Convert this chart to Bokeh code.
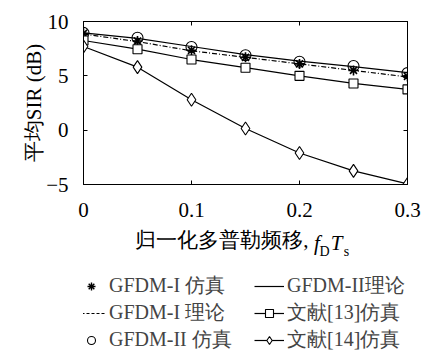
from bokeh.plotting import figure
from bokeh.layouts import column
from bokeh.models import (Range1d, FixedTicker, LinearAxis, Legend, LegendItem)
from bokeh.embed import file_html
from bokeh.resources import INLINE

# ---- data ----
doppler = [0, 0.05, 0.1, 0.15, 0.2, 0.25, 0.3]
gfdm1_sim = [8.9, 8.2, 7.35, 6.7, 6.1, 5.5, 4.95]
gfdm1_theory = [8.85, 8.15, 7.3, 6.7, 6.1, 5.5, 4.9]
gfdm2_sim = [8.95, 8.5, 7.65, 6.9, 6.3, 5.9, 5.25]
gfdm2_theory = [8.95, 8.45, 7.7, 6.95, 6.35, 5.85, 5.3]
ref13_sim = [8.25, 7.45, 6.5, 5.75, 5.0, 4.3, 3.75]
ref14_sim = [7.7, 5.8, 2.8, 0.15, -2.1, -3.75, -4.95]

x_ticks = [0, 0.1, 0.2, 0.3]
y_ticks = [-5, 0, 5, 10]
y_tick_labels = {-5: "\u22125"}

series_labels = ["GFDM-I 仿真", "GFDM-I 理论", "GFDM-II 仿真",
                 "GFDM-II理论", "文献[13]仿真", "文献[14]仿真"]
x_title_main = "归一化多普勒频移,"
x_title_italic = ["f", "T"]
x_title_sub = ["D", "s"]
y_title = "平均SIR (dB)"

FONT = "Liberation Serif"
FS = "21px"

FRAME_W = 324
X0, X1 = 0.0, 0.3

p = figure(width=423, height=262, x_range=Range1d(X0, X1), y_range=Range1d(-5, 10),
           output_backend="svg", toolbar_location=None,
           min_border_left=83, min_border_right=16, min_border_top=21,
           min_border_bottom=78)
p.xgrid.grid_line_color = None
p.ygrid.grid_line_color = None
p.outline_line_color = "black"
p.outline_line_width = 1


def style_axis(ax, ticks, show_labels=True):
    ax.ticker = FixedTicker(ticks=ticks)
    ax.major_tick_in = 4
    ax.major_tick_out = 0
    ax.minor_tick_in = 0
    ax.minor_tick_out = 0
    ax.axis_line_color = "black"
    ax.major_tick_line_color = "black"
    ax.major_label_text_font = FONT
    if show_labels:
        ax.major_label_text_font_size = FS
        ax.major_label_text_color = "black"
    else:
        ax.major_label_text_font_size = "1px"
        ax.major_label_text_color = None
        ax.major_label_standoff = 0


style_axis(p.xaxis[0], x_ticks)
p.xaxis[0].major_label_standoff = 18
p.xaxis[0].axis_label = x_title_main + "\u00a0" * 9
p.xaxis[0].axis_label_text_font = FONT
p.xaxis[0].axis_label_text_font_size = FS
p.xaxis[0].axis_label_text_font_style = "normal"
p.xaxis[0].axis_label_text_color = "black"
p.xaxis[0].axis_label_standoff = 8

style_axis(p.yaxis[0], y_ticks)
p.yaxis[0].major_label_standoff = 15
p.yaxis[0].major_label_overrides = y_tick_labels
p.yaxis[0].axis_label = y_title
p.yaxis[0].axis_label_text_font = FONT
p.yaxis[0].axis_label_text_font_size = FS
p.yaxis[0].axis_label_text_font_style = "normal"
p.yaxis[0].axis_label_text_color = "black"
p.yaxis[0].axis_label_standoff = -3

top_ax = LinearAxis()
style_axis(top_ax, x_ticks, show_labels=False)
p.add_layout(top_ax, "above")
right_ax = LinearAxis()
style_axis(right_ax, y_ticks, show_labels=False)
p.add_layout(right_ax, "right")


# ---- math part of the x title (f_D T_s), placed as label-only axes ----
def px_to_x(px):
    return round(X0 + (X1 - X0) * px / FRAME_W, 4)


def title_piece_axis(texts, offsets_px, size, style, standoff):
    ticks = [px_to_x(o) for o in offsets_px]
    ax = LinearAxis(ticker=FixedTicker(ticks=ticks),
                    major_label_overrides=dict(zip(ticks, texts)),
                    axis_line_color=None, major_tick_line_color=None,
                    minor_tick_line_color=None, major_tick_in=0, major_tick_out=0,
                    minor_tick_in=0, minor_tick_out=0,
                    major_label_standoff=standoff,
                    major_label_text_font=FONT, major_label_text_font_size=size,
                    major_label_text_font_style=style, major_label_text_color="black")
    p.add_layout(ax, "below")
    return ax


title_piece_axis(x_title_italic, [233.5, 253], FS, "italic", -24)
title_piece_axis(x_title_sub, [241, 263], "14px", "normal", -14)

# ---- series ----
r_l1 = p.line(doppler, gfdm1_theory, line_color="black", line_width=1.2, line_dash="5 2 1 2")
r_l2 = p.line(doppler, gfdm2_theory, line_color="black", line_width=1.2)
r_l13 = p.line(doppler, ref13_sim, line_color="black", line_width=1.2)
r_l14 = p.line(doppler, ref14_sim, line_color="black", line_width=1.2)
r_s1 = p.scatter(doppler, gfdm1_sim, marker="asterisk", size=10, line_color="black", line_width=1.6)
r_s2 = p.scatter(doppler, gfdm2_sim, marker="circle", size=11, fill_color=None, line_color="black", line_width=1.1)
r_s13 = p.scatter(doppler, ref13_sim, marker="square", size=9, fill_color="white", line_color="black", line_width=1.1)
r_s14 = p.scatter(doppler, ref14_sim, marker="diamond", size=13, fill_color="white", line_color="black", line_width=1.1)

# ---- legend strip below the plot; its keys are hidden copies of the series ----
p2 = figure(width=423, height=91, output_backend="svg", toolbar_location=None,
            x_axis_type=None, y_axis_type=None, min_border=0,
            outline_line_color=None)
p2.xgrid.grid_line_color = None
p2.ygrid.grid_line_color = None


def key_line(ys, **kw):
    return p2.line(doppler, ys, line_color="black", line_width=1.2, visible=False, **kw)


def key_marker(ys, marker, **kw):
    return p2.scatter(doppler, ys, marker=marker, line_color="black", visible=False, **kw)


k_s1 = key_marker(gfdm1_sim, "asterisk", size=8, line_width=1.4)
k_l1 = key_line(gfdm1_theory, line_dash="3 2")
k_s2 = key_marker(gfdm2_sim, "circle", size=8, fill_color=None, line_width=1.1)
k_l2 = key_line(gfdm2_theory)
k_l13 = key_line(ref13_sim)
k_s13 = key_marker(ref13_sim, "square", size=7, fill_color="white", line_width=1.1)
k_l14 = key_line(ref14_sim)
k_s14 = key_marker(ref14_sim, "diamond", size=10, fill_color="white", line_width=1.1)

key_groups = [[k_s1], [k_l1], [k_s2], [k_l2], [k_l13, k_s13], [k_l14, k_s14]]
legend = Legend(items=[LegendItem(label=lab, renderers=rs)
                       for lab, rs in zip(series_labels, key_groups)],
                location=(-7, 0), orientation="vertical", nrows=3, ncols=2,
                padding=0, margin=0, spacing=0, border_line_color=None,
                background_fill_alpha=0, inactive_fill_alpha=0,
                glyph_width=30, glyph_height=20,
                label_standoff=3, label_width=145, label_text_font=FONT,
                label_text_font_size="20px", label_height=27)
p2.add_layout(legend, "center")

layout = column(p, p2, spacing=0)
open("out.html", "w").write(file_html(layout, INLINE))
